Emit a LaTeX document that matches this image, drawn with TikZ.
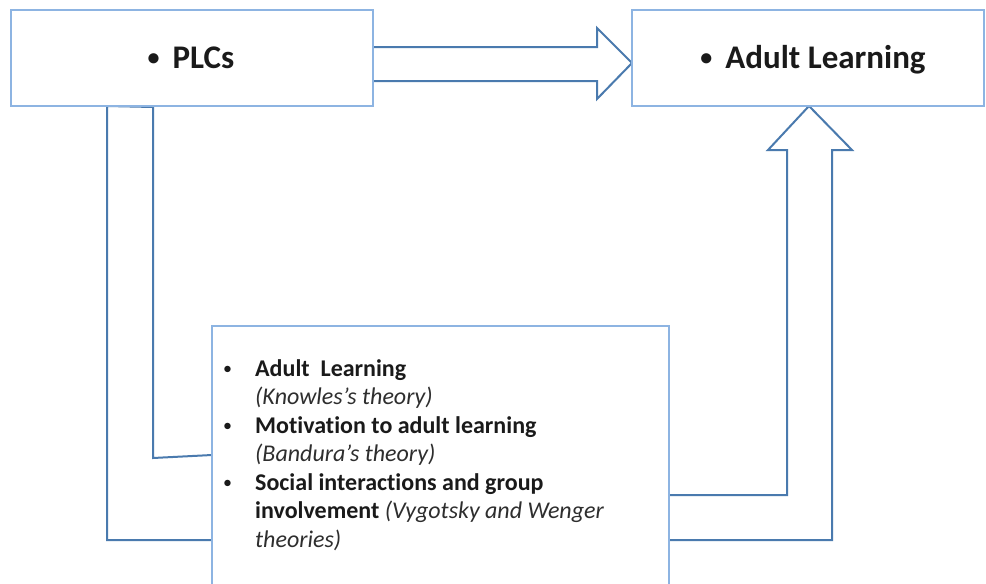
\documentclass[tikz,border=0pt]{standalone}
\usepackage{fontspec}
\setmainfont{Carlito}[Ligatures={TeX,NoCommon}]
\definecolor{boxblue}{HTML}{8DB4E2}
\definecolor{arrowblue}{HTML}{4A7AAE}
\definecolor{txt}{HTML}{1A1A1A}
\definecolor{itx}{HTML}{2E2E2E}
\tikzset{
  boxnode/.style={draw=boxblue, line width=2pt, fill=white, rectangle, inner sep=0pt},
  blockarrow/.style={draw=arrowblue, line width=2pt, line join=miter, fill=white},
  bigtext/.style={anchor=base, inner sep=0pt, font=\fontsize{33}{38}\selectfont\bfseries, text=txt},
  linetext/.style={anchor=base west, inner sep=0pt, font=\fontsize{24}{28}\selectfont, text=txt}
}
\newcommand{\smallbullet}{{\fontsize{24}{28}\selectfont\raisebox{3pt}{•}}}
\begin{document}
\begin{tikzpicture}[x=1pt,y=-1pt]
\useasboundingbox (0,0) rectangle (986,584);
\fill[white] (0,0) rectangle (986,584);

% coordinates for connector ends
\coordinate (rA1) at (373,47);
\coordinate (rA2) at (373,81);
\coordinate (tipR) at (632,63);
\coordinate (tipU) at (809,106);

% right block arrow PLCs -> Adult Learning
\draw[blockarrow] (rA1) -- (597,47) -- (597,28) -- (tipR) -- (597,99) -- (597,81) -- (rA2);

% bent block arrow bottom box -> Adult Learning
\draw[blockarrow] (669,495) -- (787,495) -- (787,150) -- (768,150) -- (tipU) -- (852,150) -- (832,150) -- (832,540) -- (669,540);

% bent band PLCs -> bottom box
\draw[arrowblue, line width=2pt, line join=miter] (212,455) -- (153,458) -- (153,107) -- (107,106) -- (107,540) -- (212,540);

% boxes
\node[boxnode, minimum width=362pt, minimum height=96pt] (plcs) at (192,58) {};
\node[bigtext] (plcst) at (191,68) {\smallbullet\hspace{13pt}PLCs};
\node[boxnode, minimum width=352pt, minimum height=96pt] (adult) at (808,58) {};
\node[bigtext] (adultt) at (813,68) {\smallbullet\hspace{13pt}Adult Learning};
\node[boxnode, minimum width=457pt, minimum height=280pt] (theory) at (440.5,466) {};

% bullets
\node[linetext, font=\fontsize{18}{24}\selectfont] (b1) at (223,374) {•};
\node[linetext, font=\fontsize{18}{24}\selectfont] (b2) at (223,431) {•};
\node[linetext, font=\fontsize{18}{24}\selectfont] (b3) at (223,488) {•};

% lines of text
\node[linetext] (l1) at (255,376) {\bfseries Adult\ \ Learning};
\node[linetext] (l2) at (255,404.5) {\color{itx}\itshape (Knowles’s theory)};
\node[linetext] (l3) at (255,433) {\bfseries Motivation to adult learning};
\node[linetext] (l4) at (255,461.5) {\color{itx}\itshape (Bandura’s theory)};
\node[linetext] (l5) at (255,490) {\bfseries Social interactions and group};
\node[linetext] (l6) at (255,518.5) {\bfseries involvement {\mdseries\itshape\color{itx}(Vygotsky and Wenger}};
\node[linetext] (l7) at (255,547) {\color{itx}\itshape theories)};
\end{tikzpicture}
\end{document}
